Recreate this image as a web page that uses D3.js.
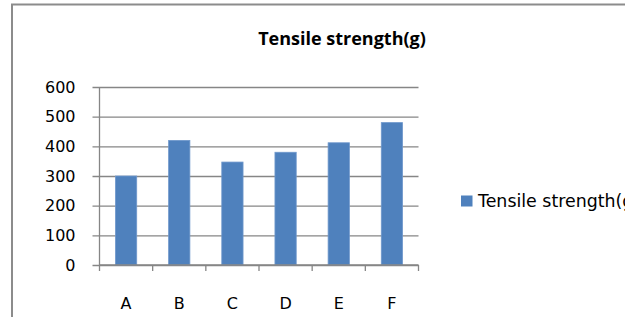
<!DOCTYPE html>
<html>
<head>
<meta charset="utf-8">
<script src="https://cdn.jsdelivr.net/npm/d3@7"></script>
<style>
  html, body { margin: 0; padding: 0; background: #fff; }
  svg { display: block; }
</style>
</head>
<body>
<div id="chart"></div>
<script>
// Chart data
const categories = ['A', 'B', 'C', 'D', 'E', 'F'];
const strengthValues = [300, 420, 347, 380, 412, 480];
const yTicks = [0, 100, 200, 300, 400, 500, 600];
const seriesName = 'Tensile strength(g)';
const chartTitle = 'Tensile strength(g)';

const W = 638, H = 317;
const font = '"DejaVu Sans", sans-serif';
const titleFont = '"Open Sans", "Liberation Sans", sans-serif';
const barColor = '#4F81BD';
const gridColor = '#868686';

const svg = d3.select('#chart').append('svg')
  .attr('width', W).attr('height', H);

// chart area clip (the box is cut on the right and bottom)
svg.append('clipPath').attr('id', 'box')
  .append('rect').attr('x', 0).attr('y', 0).attr('width', 625).attr('height', H);

const root = svg.append('g').attr('clip-path', 'url(#box)');

// outer border
root.append('rect')
  .attr('x', 12).attr('y', 4.5)
  .attr('width', 700).attr('height', 400)
  .attr('fill', '#fff')
  .attr('stroke', '#8c8c8c')
  .attr('stroke-width', 2);

// plot area
const plot = { left: 99.5, right: 418.5, top: 87, bottom: 265 };

const x = d3.scaleBand()
  .domain(categories)
  .range([plot.left, plot.right])
  .paddingInner(0.6)
  .paddingOuter(0.3);

const xEdge = d3.scaleLinear()
  .domain([0, categories.length])
  .range([plot.left, plot.right]);

const y = d3.scaleLinear()
  .domain([0, 600])
  .range([plot.bottom, plot.top]);

// gridlines + y ticks
const yAxis = d3.axisLeft(y)
  .tickValues(yTicks)
  .tickSize(-(plot.right - plot.left))
  .tickSizeOuter(0)
  .tickFormat(d3.format('d'))
  .tickPadding(24);

const gy = root.append('g')
  .attr('transform', `translate(${plot.left},0)`)
  .call(yAxis);
gy.select('.domain').remove();
gy.selectAll('.tick line')
  .attr('x1', -7)
  .attr('stroke', gridColor)
  .attr('stroke-width', 1.3);
gy.selectAll('.tick text')
  .attr('fill', '#000')
  .attr('font-family', font)
  .attr('font-size', '16px');

// y axis line
root.append('line')
  .attr('x1', plot.left).attr('x2', plot.left)
  .attr('y1', plot.top).attr('y2', plot.bottom)
  .attr('stroke', gridColor).attr('stroke-width', 1.3);

// bars
root.append('g').selectAll('rect')
  .data(categories.map((c, i) => ({ c, v: strengthValues[i] })))
  .join('rect')
  .attr('x', d => x(d.c))
  .attr('width', x.bandwidth())
  .attr('y', d => y(d.v))
  .attr('height', d => y(0) - y(d.v))
  .attr('fill', barColor)
  .attr('stroke', '#6f98cc')
  .attr('stroke-width', 0.8);

// x axis baseline and category ticks
root.append('line')
  .attr('x1', plot.left).attr('x2', plot.right)
  .attr('y1', plot.bottom).attr('y2', plot.bottom)
  .attr('stroke', gridColor).attr('stroke-width', 1.3);

root.append('g').selectAll('line')
  .data(d3.range(categories.length + 1))
  .join('line')
  .attr('x1', i => xEdge(i)).attr('x2', i => xEdge(i))
  .attr('y1', plot.bottom).attr('y2', plot.bottom + 6)
  .attr('stroke', gridColor).attr('stroke-width', 1.3);

root.append('g').selectAll('text')
  .data(categories)
  .join('text')
  .attr('x', d => x(d) + x.bandwidth() / 2)
  .attr('y', 309)
  .attr('text-anchor', 'middle')
  .attr('font-family', font)
  .attr('font-size', '16px')
  .attr('fill', '#000')
  .text(d => d);

// title
root.append('text')
  .attr('x', 342)
  .attr('y', 45)
  .attr('text-anchor', 'middle')
  .attr('font-family', titleFont)
  .attr('font-size', '18px')
  .attr('font-weight', 'bold')
  .attr('fill', '#000')
  .text(chartTitle);

// legend
root.append('rect')
  .attr('x', 461).attr('y', 195.5)
  .attr('width', 11.5).attr('height', 11)
  .attr('fill', barColor);

root.append('text')
  .attr('x', 478)
  .attr('y', 207)
  .attr('font-family', font)
  .attr('font-size', '17.4px')
  .attr('fill', '#000')
  .text(seriesName);
</script>
</body>
</html>
